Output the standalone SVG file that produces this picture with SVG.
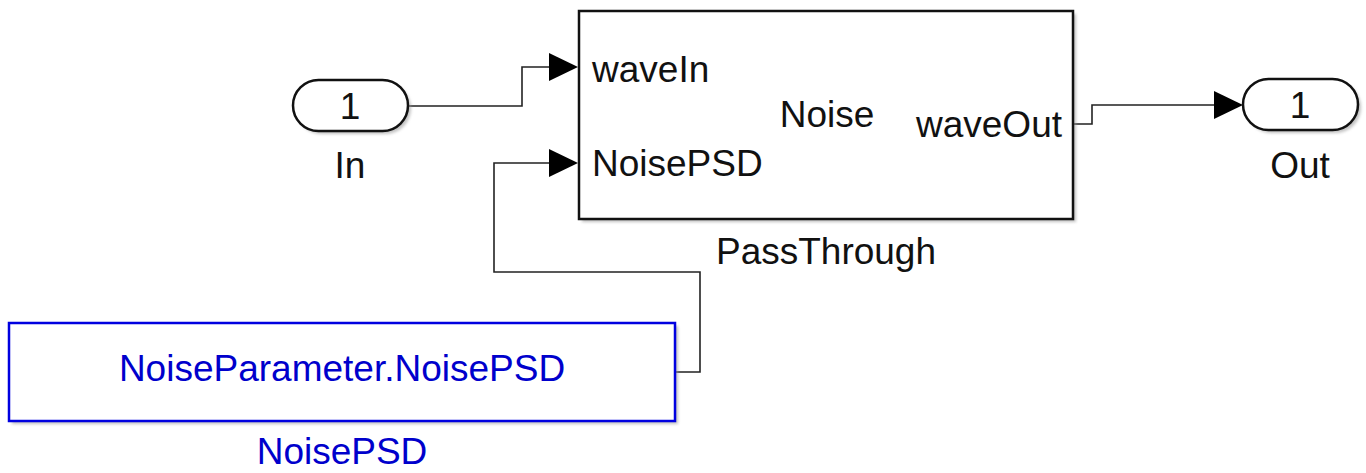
<svg xmlns="http://www.w3.org/2000/svg" width="1366" height="473" viewBox="0 0 1366 473">
<defs>
<style>
.t{font-family:"Liberation Sans",Arial,sans-serif;font-size:37px;fill:#111}
.b{font-family:"Liberation Sans",Arial,sans-serif;font-size:37px;fill:#0000cc}
.blk{fill:#fff;stroke:#111;stroke-width:2.5}
.cst{fill:#fff;stroke:#0000e0;stroke-width:2.5}
.sh{fill:#999;opacity:0.6}
.w{fill:none;stroke:#222;stroke-width:1.6}
.ah{fill:#000}
</style>
<filter id="blur" x="-5%" y="-5%" width="110%" height="110%"><feGaussianBlur stdDeviation="1.5"/></filter>
</defs>
<g id="connectors">
<polyline class="w" points="408,106 522,106 522,67 550,67"/>
<polygon class="ah" points="549,53 578,67 549,81"/>
<polyline class="w" points="675,372 700,372 700,272 494,272 494,163 550,163"/>
<polygon class="ah" points="549,149 578,163 549,177"/>
<polyline class="w" points="1073,124 1092,124 1092,105 1215,105"/>
<polygon class="ah" points="1214,91 1243,105 1214,119"/>
</g>
<g id="In">
<rect class="sh" x="296" y="83" width="115" height="51" rx="25.5" filter="url(#blur)"/>
<rect class="blk" x="293" y="80" width="115" height="51" rx="25.5" stroke-width="2"/>
<text class="t" x="350" y="119" text-anchor="middle">1</text>
<text class="t" x="350" y="178" text-anchor="middle">In</text>
</g>
<g id="PassThrough">
<rect class="sh" x="582" y="14" width="494" height="208" filter="url(#blur)"/>
<rect class="blk" x="579" y="11" width="494" height="208"/>
<text class="t" x="592" y="82">waveIn</text>
<text class="t" x="592" y="176">NoisePSD</text>
<text class="t" x="827" y="127" text-anchor="middle">Noise</text>
<text class="t" x="1062" y="137" text-anchor="end">waveOut</text>
<text class="t" x="826" y="264" text-anchor="middle">PassThrough</text>
</g>
<g id="Out">
<rect class="sh" x="1246" y="82" width="115" height="51" rx="25.5" filter="url(#blur)"/>
<rect class="blk" x="1243" y="79" width="115" height="51" rx="25.5" stroke-width="2"/>
<text class="t" x="1300" y="118" text-anchor="middle">1</text>
<text class="t" x="1300" y="178" text-anchor="middle">Out</text>
</g>
<g id="NoisePSD">
<rect class="sh" x="12" y="326" width="666" height="98" filter="url(#blur)"/>
<rect class="cst" x="9" y="323" width="666" height="98"/>
<text class="b" x="342" y="381" text-anchor="middle">NoiseParameter.NoisePSD</text>
<text class="b" x="342" y="464" text-anchor="middle">NoisePSD</text>
</g>
</svg>
